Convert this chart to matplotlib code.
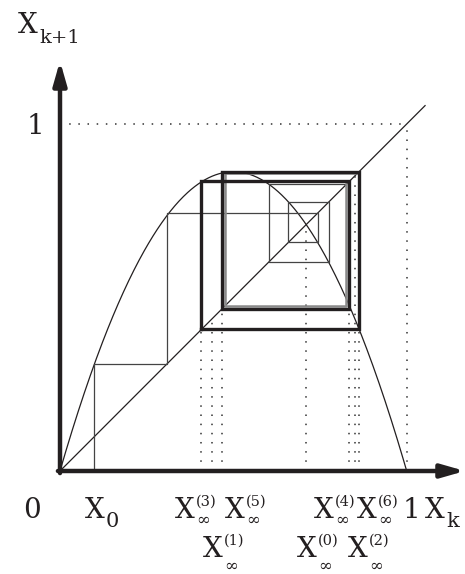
import numpy as np
import matplotlib.pyplot as plt

plt.rcParams['font.family'] = 'DejaVu Serif'

# logistic map x -> r x (1 - x); peak of the parabola is read at ~0.862
r = 3.45

orbit = [0.098, 0.308, 0.744, 0.659, 0.775, 0.603, 0.826, 0.476, 0.86]
n_thin = 13          # number of path points drawn thin, rest gray/thick

# the attracting cycle drawn in heavy black
cycle = [0.408, 0.835, 0.467, 0.862]

# marked points on the x axis
mark_values = [0.710, 0.437, 0.852, 0.408, 0.835, 0.467, 0.862]

diag_end = 1.053

W, H = 465, 574
# pixel frame of the reference: origin and unit point
OX, OY, UX, UY = 60.0, 471.0, 346.7, 347.0


def px(x, y):
    return (x - OX) / UX, (OY - y) / UY


fig = plt.figure(figsize=(W / 100, H / 100), dpi=100)
ax = fig.add_axes([0, 0, 1, 1])
ax.set_xlim(px(0, 0)[0], px(W, 0)[0])
ax.set_ylim(px(0, H)[1], px(0, 0)[1])
ax.axis('off')

ink = '#231f20'
dots = (0, (1, 5))

# parabola and diagonal
xs = np.linspace(0, 1, 400)
ax.plot(xs, r * xs * (1 - xs), color=ink, lw=0.9)
ax.plot([0, diag_end], [0, diag_end], color=ink, lw=0.9)

# dotted guides at 1
ax.plot([0, 1], [1, 1], color='#333', lw=1.1, ls=dots)
ax.plot([1, 1], [0, 1], color='#333', lw=1.1, ls=dots)

# dotted verticals for the limit points
for v in mark_values:
    ax.plot([v, v], [0, v], color='#333', lw=1.1, ls=dots)

# cobweb of the orbit from X0
cx, cy = [orbit[0]], [0.0]
for a, b in zip(orbit[:-1], orbit[1:]):
    cx += [a, b]
    cy += [b, b]
ax.plot(cx[:n_thin], cy[:n_thin], color='#444', lw=0.9)
ax.plot(cx[n_thin - 1:], cy[n_thin - 1:], color='#8a8a8a', lw=1.8)

# heavy cycle
kx, ky = [], []
for a, b in zip(cycle, cycle[1:] + cycle[:1]):
    kx += [a, a, b]
    ky += [a, b, b]
ax.plot(kx, ky, color=ink, lw=2.4, solid_joinstyle='miter')

# axes with arrows
arrow = dict(arrowstyle='-|>,head_length=0.7,head_width=0.2', lw=3.2,
             color=ink, shrinkA=0, shrinkB=0, mutation_scale=20)
ax.annotate('', xy=px(OX, 61), xytext=(0, -0.006), arrowprops=arrow)
ax.annotate('', xy=px(465, OY), xytext=(-0.006, 0), arrowprops=arrow)


def label(x, y, main, sub=None, sup=None, sub_fs=12, sub_dy=7, sub_dx=21):
    ax.text(*px(x, y), main, fontsize=20, ha='left', va='baseline', color=ink)
    if sub:
        ax.text(*px(x + sub_dx, y + sub_dy), sub, fontsize=sub_fs,
                ha='left', va='baseline', color=ink)
    if sup:
        ax.text(*px(x + 21, y - 12), sup, fontsize=10.5, ha='left',
                va='baseline', color=ink)


inf = '\u221e'
label(23, 518, '0')
label(85, 518, 'X', '0', sub_fs=15, sub_dy=9)
label(175, 518, 'X', inf, '(3)')
label(225, 518, 'X', inf, '(5)')
label(314, 518, 'X', inf, '(4)')
label(357, 518, 'X', inf, '(6)')
label(403, 518, '1')
label(425, 518, 'X', 'k', sub_fs=15, sub_dy=9)
label(203, 557, 'X', inf, '(1)', sub_dy=14)
label(297, 557, 'X', inf, '(0)', sub_dy=14)
label(348, 557, 'X', inf, '(2)', sub_dy=14)
label(18, 33, 'X', 'k+1', sub_fs=14, sub_dy=10)
label(27, 134, '1')

fig.savefig('out.png', dpi=100)
